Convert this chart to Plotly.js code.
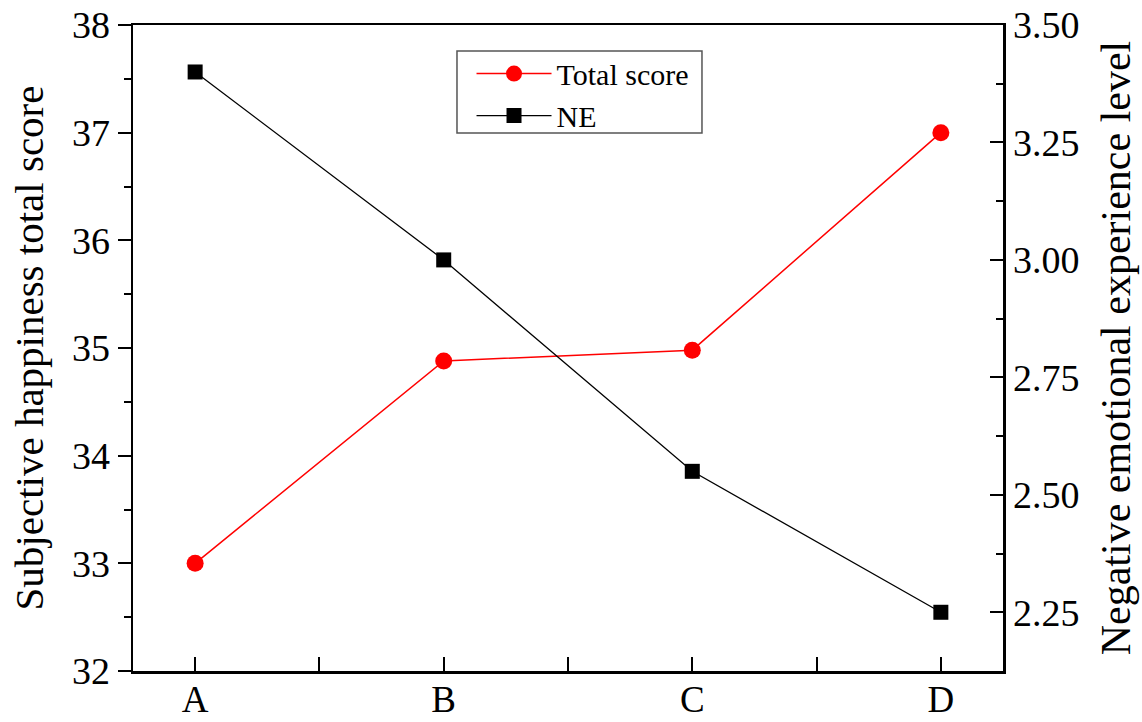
<!DOCTYPE html>
<html>
<head>
<meta charset="utf-8">
<script src="https://cdn.plot.ly/plotly-3.0.1.min.js"></script>
<style>html,body{margin:0;padding:0;background:#fff;}#chart{width:1142px;height:722px;}</style>
</head>
<body>
<div id="chart"></div>
<script>
const categories = ['A', 'B', 'C', 'D'];
const totalScore = [33.0, 34.88, 34.98, 37.0];
const neLevel = [3.40, 3.00, 2.55, 2.25];
const leftTitle = 'Subjective happiness total score';
const rightTitle = 'Negative emotional experience level';

const xPos = categories.map((c, i) => i);
const tickVals = [];
const tickText = [];
categories.forEach((c, i) => {
  tickVals.push(i); tickText.push(c);
  if (i < categories.length - 1) { tickVals.push(i + 0.5); tickText.push(''); }
});

const FONT = 'Liberation Serif, Times New Roman, serif';

const traces = [
  {
    x: xPos, y: totalScore, name: 'Total score', type: 'scatter', mode: 'lines+markers',
    line: {color: '#ff0000', width: 1.5},
    marker: {symbol: 'circle', size: 17, color: '#ff0000'},
    yaxis: 'y'
  },
  {
    x: xPos, y: neLevel, name: 'NE', type: 'scatter', mode: 'lines+markers',
    line: {color: '#000000', width: 1.3},
    marker: {symbol: 'square', size: 15, color: '#000000'},
    yaxis: 'y2'
  }
];

const layout = {
  width: 1142, height: 722,
  margin: {l: 133, r: 139, t: 25, b: 51},
  paper_bgcolor: '#ffffff', plot_bgcolor: '#ffffff',
  font: {family: FONT, color: '#000', size: 30},
  showlegend: true,
  legend: {
    x: 0.3891, y: 0.965, xanchor: 'left', yanchor: 'top',
    bgcolor: 'rgba(0,0,0,0)', borderwidth: 0,
    font: {family: FONT, size: 30, color: '#000'},
    itemwidth: 75, tracegroupgap: 0
  },
  shapes: [
    {type: 'rect', xref: 'paper', yref: 'paper', x0: 0.3724, x1: 0.654, y0: 0.8328, y1: 0.9598,
     line: {color: '#555555', width: 1.5}, fillcolor: 'rgba(0,0,0,0)', layer: 'above'}
  ],
  xaxis: {
    range: [-0.25, 3.25], tickmode: 'array', tickvals: tickVals, ticktext: tickText,
    ticks: 'inside', ticklen: 14, tickwidth: 2, tickcolor: '#000',
    showline: true, linewidth: 2.5, linecolor: '#000', mirror: true,
    showgrid: false, zeroline: false,
    ticklabelstandoff: -6,
    tickfont: {family: FONT, size: 37, color: '#000'}
  },
  yaxis: {
    range: [32, 38], dtick: 1, tick0: 32,
    ticks: 'outside', ticklen: 13, tickwidth: 2, tickcolor: '#000',
    minor: {dtick: 0.5, ticks: 'outside', ticklen: 7, tickwidth: 2, tickcolor: '#000', showgrid: false},
    showline: true, linewidth: 2.5, linecolor: '#000',
    showgrid: false, zeroline: false,
    tickfont: {family: FONT, size: 38, color: '#000'},
    title: {text: leftTitle, font: {family: FONT, size: 41, color: '#000'}, standoff: 16}
  },
  yaxis2: {
    overlaying: 'y', side: 'right', range: [2.125, 3.5], dtick: 0.25, tick0: 2.25,
    tickformat: '.2f',
    ticks: 'inside', ticklen: 13, tickwidth: 2, tickcolor: '#000',
    minor: {dtick: 0.125, ticks: 'inside', ticklen: 7, tickwidth: 2, tickcolor: '#000', showgrid: false},
    showline: true, linewidth: 2.5, linecolor: '#000',
    showgrid: false, zeroline: false,
    tickfont: {family: FONT, size: 38, color: '#000'},
    title: {text: rightTitle, font: {family: FONT, size: 42, color: '#000'}, standoff: 22}
  }
};

Plotly.newPlot('chart', traces, layout, {displayModeBar: false, staticPlot: true});
</script>
</body>
</html>
